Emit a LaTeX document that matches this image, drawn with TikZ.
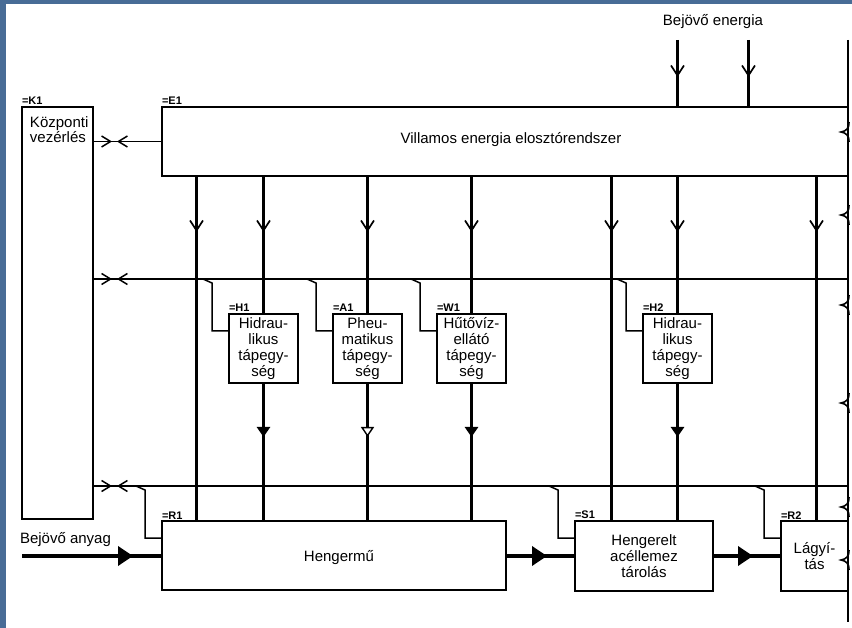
\documentclass[tikz,border=0pt]{standalone}
\usepackage{fontspec}
\setmainfont{Liberation Sans}
\usetikzlibrary{arrows.meta,decorations.markings,calc}
\definecolor{frameblue}{RGB}{72,108,150}
\begin{document}
\begin{tikzpicture}[x=1pt,y=-1pt,
  every node/.style={inner sep=0pt,outer sep=0pt},
  blk/.style={draw,line width=1.5pt,fill=white,anchor=north west,font=\fontsize{15}{16}\selectfont,align=center},
  tag/.style={font=\fontsize{11}{11}\selectfont\bfseries,anchor=south west,yshift=2pt},
  lbl/.style={font=\fontsize{15}{16}\selectfont},
  thinln/.style={line width=1.5pt},
  pwr/.style={line width=3pt},
  flow/.style={line width=3.6pt},
  vmark/.style={postaction={decorate},decoration={markings,mark=at position #1 with {\arrow{Straight Barb[length=10pt,width=13pt,line width=1.7pt]}}}},
  ftri/.style={postaction={decorate},decoration={markings,mark=at position #1 with {\arrow{Triangle[length=10pt,width=13pt]}}}},
  otri/.style={postaction={decorate},decoration={markings,mark=at position #1 with {\arrow{Triangle[length=10pt,width=13pt,fill=white,line width=1.4pt]}}}},
  mtri/.style={postaction={decorate},decoration={markings,mark=at position #1 with {\arrow{Triangle[length=15pt,width=19pt]}}}},
  xmark/.style={postaction={decorate},decoration={markings,
     mark=at position 19pt with {\arrow{Straight Barb[length=9pt,width=11pt,line width=1.5pt]}},
     mark=at position 24pt with {\arrowreversed{Straight Barb[length=9pt,width=11pt,line width=1.5pt]}}}}
]
\useasboundingbox (0,0) rectangle (852,628);
\fill[frameblue] (0,0) rectangle (852,628);
\fill[white] (6,4) rectangle (852,628);

% coordinates
\coordinate (rl) at (848,0);
\coordinate (b2) at (0,279);
\coordinate (b3) at (0,486);
\coordinate (v196) at (196.5,0);
\coordinate (v611) at (611.5,0);
\coordinate (v816) at (816.5,0);
\coordinate (be1) at (677.5,40);
\coordinate (be2) at (748.5,40);
\coordinate (rtop) at (848,40);
\coordinate (rbot) at (848,622);
\coordinate (inL) at (22,556);

% boxes
\node[blk,minimum width=71pt,minimum height=412pt] (K1) at (22,107) {};
\node[blk,minimum width=686pt,minimum height=69pt] (E1) at (162,107) {};
\node[blk,minimum width=69pt,minimum height=69pt] (H1) at (229,314) {Hidrau-\\likus\\tápegy-\\ség};
\node[blk,minimum width=69pt,minimum height=69pt] (A1) at (333,314) {Pheu-\\matikus\\tápegy-\\ség};
\node[blk,minimum width=69pt,minimum height=69pt] (W1) at (437,314) {Hűtővíz-\\ellátó\\tápegy-\\ség};
\node[blk,minimum width=69pt,minimum height=69pt] (H2) at (643,314) {Hidrau-\\likus\\tápegy-\\ség};
\node[blk,minimum width=344pt,minimum height=69pt] (R1) at (162,521) {};
\node[blk,minimum width=138pt,minimum height=70pt] (S1) at (575,521) {Hengerelt\\acéllemez\\tárolás};
\node[blk,minimum width=67pt,minimum height=70pt,font=\fontsize{15}{13.5}\selectfont] (R2) at (781,521) {Lágyí-\\tás};

% texts
\node[lbl,anchor=north west,align=left,font=\fontsize{15}{15}\selectfont] (tK1) at (30,117) {Központi\\vezérlés};
\node[lbl] (tE1) at (511,140) {Villamos energia elosztórendszer};
\node[lbl] (tR1) at (339,558) {Hengermű};
\node[lbl] (tBE) at (713,22) {Bejövő energia};
\node[lbl,anchor=west] (tBA) at (20,540) {Bejövő anyag};

% tags
\node[tag] (gK1) at (K1.north west) {=K1};
\node[tag] (gE1) at (E1.north west) {=E1};
\node[tag] (gH1) at (H1.north west) {=H1};
\node[tag] (gA1) at (A1.north west) {=A1};
\node[tag] (gW1) at (W1.north west) {=W1};
\node[tag] (gH2) at (H2.north west) {=H2};
\node[tag] (gR1) at (R1.north west) {=R1};
\node[tag] (gS1) at (S1.north west) {=S1};
\node[tag] (gR2) at (R2.north west) {=R2};

% right break line
\draw[line width=1.8pt] (rtop) -- (rbot);
\foreach \yy in {132,215,305,403,507,560}
  \draw[line width=1.6pt] (849,\yy-10) .. controls (849,\yy-3) and (846,\yy-1) .. (841,\yy) .. controls (846,\yy+1) and (849,\yy+3) .. (849,\yy+10);

% bus lines
\draw[thinln,xmark] (K1.east |- E1.west) -- (E1.west);
\draw[thinln,xmark] (K1.east |- b2) -- (rl |- b2);
\draw[thinln,xmark] (K1.east |- b3) -- (rl |- b3);

% branches
\foreach \bx/\bus in {H1/b2,A1/b2,W1/b2,H2/b2,R1/b3,S1/b3,R2/b3}{
  \path ($(\bx.north west)+(-26,0)$) coordinate (tmpa);
  \draw[thinln] (tmpa |- \bus) -- ++(9,4) -- ($(\bx.north west)+(-17,17)$) -- ($(\bx.north west)+(0,17)$);
}

% incoming energy
\draw[pwr,vmark=37pt] (be1) -- (be1 |- E1.north);
\draw[pwr,vmark=37pt] (be2) -- (be2 |- E1.north);

% power lines
\draw[pwr,vmark=56pt] (E1.south -| v196) -- (R1.north -| v196);
\draw[pwr,vmark=56pt] (E1.south -| H1) -- (H1.north);
\draw[pwr,ftri=54pt] (H1.south) -- (R1.north -| H1);
\draw[pwr,vmark=56pt] (E1.south -| A1) -- (A1.north);
\draw[pwr,otri=54pt] (A1.south) -- (R1.north -| A1);
\draw[pwr,vmark=56pt] (E1.south -| W1) -- (W1.north);
\draw[pwr,ftri=54pt] (W1.south) -- (R1.north -| W1);
\draw[pwr,vmark=56pt] (E1.south -| v611) -- (S1.north -| v611);
\draw[pwr,vmark=56pt] (E1.south -| H2) -- (H2.north);
\draw[pwr,ftri=54pt] (H2.south) -- (S1.north -| H2);
\draw[pwr,vmark=56pt] (E1.south -| v816) -- (R2.north -| v816);

% material flow
\draw[flow,mtri=111pt] (inL) -- (R1.west |- inL);
\draw[flow,mtri=41pt] (R1.east |- inL) -- (S1.west |- inL);
\draw[flow,mtri=40pt] (S1.east |- inL) -- (R2.west |- inL);
\end{tikzpicture}
\end{document}
